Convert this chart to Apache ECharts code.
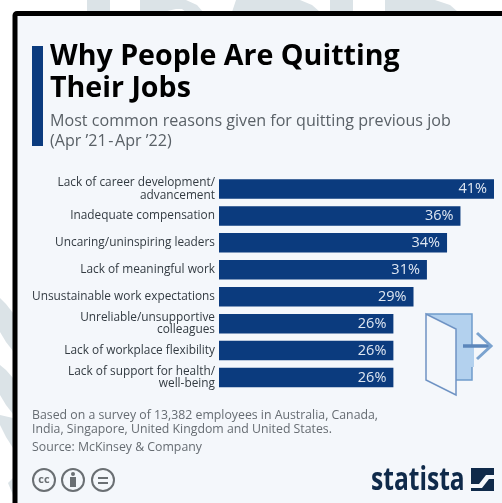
<!DOCTYPE html>
<html><head><meta charset="utf-8">
<style>html,body{margin:0;padding:0;background:#fff}#c{width:502px;height:503px}</style>
<script src="https://cdn.jsdelivr.net/npm/echarts@6/dist/echarts.min.js"></script>
</head><body><div id="c"></div>
<script>
const categories = ["Lack of career development/\nadvancement","Inadequate compensation","Uncaring/uninspiring leaders","Lack of meaningful work","Unsustainable work expectations","Unreliable/unsupportive\ncolleagues","Lack of workplace flexibility","Lack of support for health/\nwell-being"];
const values = [41,36,34,31,29,26,26,26];
const font = '"Open Sans"';
const navy = '#0b3b7e';
const wm = '#dbe3e7';
const chart = echarts.init(document.getElementById('c'),null,{renderer:'canvas'});
function txt(x,y,t,size,color,weight){return {type:'text',z:5,style:{x,y,text:t,font:(weight||400)+' '+size+'px "Open Sans"',fill:color,verticalAlign:'middle'}};}
function poly(points){return {type:'polygon',z:-10,silent:true,shape:{points,smooth:0},style:{fill:wm}};}
chart.setOption({
 animation:false,
 backgroundColor:'#ffffff',
 grid:{left:219,top:175.5,width:275,height:215.5,containLabel:false},
 xAxis:{type:'value',min:0,max:41,show:false},
 yAxis:{type:'category',inverse:true,data:categories,axisLine:{show:false},axisTick:{show:false},
  axisLabel:{margin:4,color:'#333b42',fontFamily:font,fontSize:11.85,lineHeight:12.5,align:'right'}},
 series:[{type:'bar',data:values,barWidth:19.5,itemStyle:{color:navy},
  label:{show:true,position:'insideRight',distance:7,color:'#dfe7f2',fontFamily:font,fontSize:14.5,formatter:p=>p.value+'%'}}],
 graphic:[
  poly([[87,0],[110,0],[110,12],[87,12]]),
  poly([[140,0],[186,0],[197,5],[203,12],[186,12],[182,9],[176,9],[163,12],[140,12]]),
  poly([[236,0],[278,0],[300,0],[312,5],[320,12],[232,12]]),
  poly([[330,0],[353,0],[353,12],[330,12]]),
  poly([[385,0],[435,0],[450,5],[458,12],[385,12]]),
  poly([[0,298],[6,304],[13,313],[13,351],[6,342],[0,332]]),
  poly([[0,365],[6,370],[13,378],[13,414],[6,405],[0,395]]),
  poly([[0,415],[13,418],[13,448],[6,437],[0,425]]),
  poly([[8,483],[13,478],[13,495]]),
  {type:'rect',z:-9,shape:{x:15,y:13.5,width:500,height:500,r:2},style:{fill:'#f4f7fb',stroke:'#000',lineWidth:5}},
  {type:'rect',z:5,shape:{x:32,y:46,width:11,height:100},style:{fill:navy}},
  txt(50,57,'Why People Are Quitting',28.6,'#000',700),
  txt(50,89,'Their Jobs',28.6,'#000',700),
  txt(50,121,'Most common reasons given for quitting previous job',16.1,'#5a6167'),
  txt(50,141,'(Apr ’21\u200a-\u200aApr ’22)',16.1,'#5a6167'),
  txt(32,415,'Based on a survey of 13,382 employees in Australia, Canada,',12.3,'#666c72'),
  txt(32,429.5,'India, Singapore, United Kingdom and United States.',12.3,'#666c72'),
  txt(32,447,'Source: McKinsey & Company',12.3,'#666c72'),
  // door icon
  {type:'polygon',z:5,shape:{points:[[427,314],[472,314],[472,380],[427,380]]},style:{fill:'#b3d1ee',stroke:'#6f9ccc',lineWidth:1.5}},
  {type:'rect',z:5,shape:{x:470,y:347,width:4,height:20},style:{fill:'#b3d1ee'}},
  {type:'polygon',z:6,shape:{points:[[426,314],[456,329],[456,395],[426,380]]},style:{fill:'#f4f7fb',stroke:'#6f93c4',lineWidth:1.5}},
  {type:'polyline',z:7,shape:{points:[[463,346],[491,346]]},style:{stroke:'#5b86bb',lineWidth:3.5,fill:null}},
  {type:'polyline',z:7,shape:{points:[[477,333],[491,346],[477,359]]},style:{stroke:'#7ba3cf',lineWidth:3,fill:null}},
  // cc icons
  ...[44,73,103].map(cx=>({type:'circle',z:5,shape:{cx,cy:480,r:11},style:{fill:'none',stroke:'#6a6f73',lineWidth:2}})),
  {type:'text',z:5,style:{x:44,y:480,text:'cc',font:'700 11px "Open Sans"',fill:'#6a6f73',align:'center',verticalAlign:'middle'}},
  {type:'circle',z:5,shape:{cx:73,cy:474,r:2},style:{fill:'#6a6f73'}},
  {type:'rect',z:5,shape:{x:70,y:477,width:6,height:10},style:{fill:'#6a6f73'}},
  {type:'rect',z:5,shape:{x:98,y:477,width:10,height:2},style:{fill:'#6a6f73'}},
  {type:'rect',z:5,shape:{x:98,y:482,width:10,height:2},style:{fill:'#6a6f73'}},
  // statista logo
  {type:'text',z:5,x:371,y:481,scaleX:0.745,style:{x:0,y:0,text:'statista',font:'700 33px "Open Sans"',fill:'#0f2a4a',verticalAlign:'middle'}},
  {type:'polygon',z:5,shape:{points:[[471,468],[494,468],[494,491],[471,491]]},style:{fill:'#0f2a4a'}},
  {type:'polygon',z:6,shape:{points:[[471,484],[479,484],[486,475],[494,475],[494,479],[489,479],[482,488],[471,488]]},style:{fill:'#f4f7fb'}}
 ]
});
</script></body></html>
